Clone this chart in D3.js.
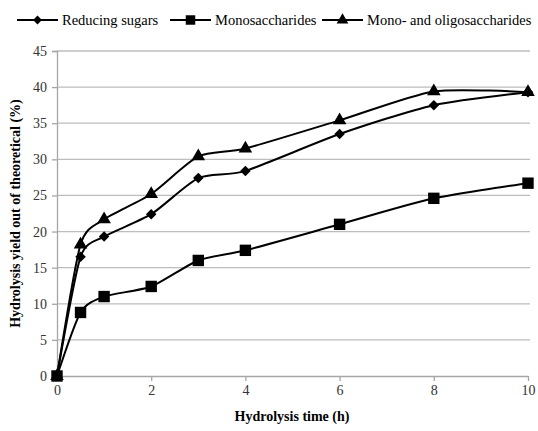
<!DOCTYPE html>
<html>
<head>
<meta charset="utf-8">
<script src="https://cdn.jsdelivr.net/npm/d3@7"></script>
<style>
  body { margin: 0; background: #fff; }
</style>
</head>
<body>
<div id="chart"></div>
<script>
var hours = [0, 0.5, 1, 2, 3, 4, 6, 8, 10];
var reducingSugars = [0, 16.5, 19.3, 22.4, 27.4, 28.4, 33.5, 37.5, 39.3];
var monosaccharides = [0, 8.8, 11.0, 12.4, 16.0, 17.4, 21.0, 24.6, 26.7];
var monoOligo = [0, 18.2, 21.7, 25.2, 30.4, 31.5, 35.4, 39.4, 39.3];
var xTicks = [0, 2, 4, 6, 8, 10];
var yTicks = [0, 5, 10, 15, 20, 25, 30, 35, 40, 45];
var seriesNames = ["Reducing sugars", "Monosaccharides", "Mono- and oligosaccharides"];

var serif = "'Liberation Serif', 'Times New Roman', Times, 'DejaVu Serif', serif";
var width = 538, height = 431;

var svg = d3.select("#chart").append("svg")
  .attr("width", width)
  .attr("height", height)
  .style("font-family", serif);

var x = d3.scaleLinear().domain([0, 10]).range([57, 528]);
var y = d3.scaleLinear().domain([0, 45]).range([376, 51]);

// gridlines
svg.selectAll(".grid")
  .data(yTicks.slice(1))
  .enter()
  .append("line")
    .attr("x1", x(0))
    .attr("x2", x(10) + 2)
    .attr("y1", function (d) { return y(d); })
    .attr("y2", function (d) { return y(d); })
    .attr("stroke", "#bdbdbd")
    .attr("stroke-width", 1.3);

// y axis
var yAxis = svg.append("g")
  .attr("transform", "translate(" + x(0) + ",0)")
  .call(d3.axisLeft(y).tickValues(yTicks).tickSize(5).tickPadding(5));
yAxis.attr("font-family", null);
yAxis.select(".domain").attr("stroke", "#a6a6a6").attr("stroke-width", 1.3);
yAxis.selectAll(".tick line").attr("stroke", "#a6a6a6").attr("stroke-width", 1.3);
yAxis.selectAll("text")
  .attr("font-size", 14)
  .attr("fill", "#333");

// x axis
var xAxis = svg.append("g")
  .attr("transform", "translate(0," + y(0) + ")")
  .call(d3.axisBottom(x).tickValues(xTicks).tickSize(5).tickPadding(4).tickSizeOuter(0));
xAxis.attr("font-family", null);
xAxis.select(".domain").attr("stroke", "#a6a6a6").attr("stroke-width", 1.3);
xAxis.selectAll(".tick line").attr("stroke", "#a6a6a6").attr("stroke-width", 1.3);
xAxis.selectAll("text")
  .attr("font-size", 14)
  .attr("fill", "#333");

// axis titles
svg.append("text")
  .attr("x", 292)
  .attr("y", 421)
  .attr("text-anchor", "middle")
  .attr("font-size", 14)
  .attr("font-weight", "bold")
  .text("Hydrolysis time (h)");

svg.append("text")
  .attr("transform", "translate(20," + ((y(0) + y(45)) / 2) + ") rotate(-90)")
  .attr("text-anchor", "middle")
  .attr("font-size", 14)
  .attr("font-weight", "bold")
  .text("Hydrolysis yield out of theoretical (%)");

var line = d3.line()
  .x(function (d, i) { return x(hours[i]); })
  .y(function (d) { return y(d); })
  .curve(d3.curveCardinal.tension(0.3));

var symbols = [
  d3.symbol().type(d3.symbolDiamond2 || d3.symbolDiamond).size(70),
  d3.symbol().type(d3.symbolSquare).size(130),
  d3.symbol().type(d3.symbolTriangle).size(80)
];
var legendSymbols = [
  d3.symbol().type(d3.symbolDiamond2 || d3.symbolDiamond).size(50),
  d3.symbol().type(d3.symbolSquare).size(90),
  d3.symbol().type(d3.symbolTriangle).size(60)
];
var allSeries = [reducingSugars, monosaccharides, monoOligo];

allSeries.forEach(function (vals, s) {
  svg.append("path")
    .datum(vals)
    .attr("d", line)
    .attr("fill", "none")
    .attr("stroke", "#000")
    .attr("stroke-width", 2);
  svg.selectAll(".pt" + s)
    .data(vals)
    .enter()
    .append("path")
      .attr("class", "pt" + s)
      .attr("transform", function (d, i) { return "translate(" + x(hours[i]) + "," + y(d) + ")"; })
      .attr("d", symbols[s])
      .attr("fill", "#000");
});

// legend
var legendX = [17, 170, 322];
var legend = svg.selectAll(".legend")
  .data(seriesNames)
  .enter()
  .append("g")
    .attr("class", "legend")
    .attr("transform", function (d, i) { return "translate(" + legendX[i] + ",20)"; });
legend.append("line")
  .attr("x1", 0).attr("x2", 41)
  .attr("stroke", "#000").attr("stroke-width", 2);
legend.append("path")
  .attr("transform", "translate(20.5,0)")
  .attr("d", function (d, i) { return legendSymbols[i](); })
  .attr("fill", "#000");
legend.append("text")
  .attr("x", 45)
  .attr("y", 5)
  .attr("font-size", 14.5)
  .text(function (d) { return d; });
</script>
</body>
</html>
